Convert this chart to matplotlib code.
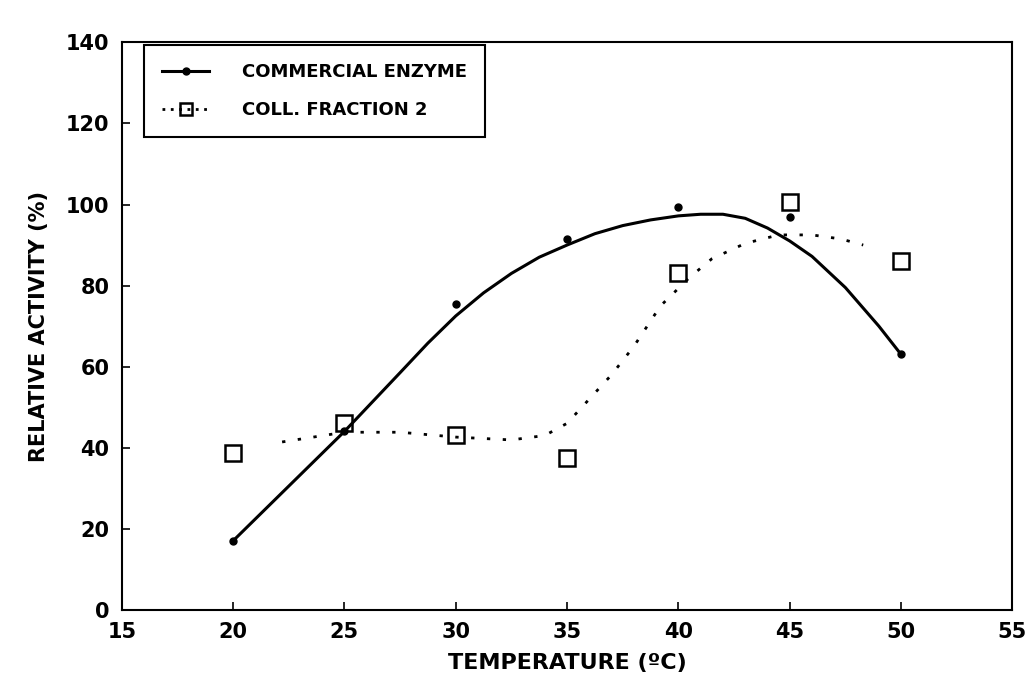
import matplotlib
matplotlib.use("Agg")
import matplotlib.pyplot as plt
from matplotlib.lines import Line2D

# measured points
temp = [20, 25, 30, 35, 40, 45, 50]
commercial = [17, 44, 75.5, 91.5, 99.5, 97, 63]
fraction2 = [38.6, 46, 43, 37.4, 83, 100.7, 86]

# hand-drawn fit curves
comm_fit_x = [20, 22.5, 25, 27.5, 28.75, 30, 31.25, 32.5, 33.75, 35, 36.25, 37.5,
              38.75, 40, 41, 42, 43, 44, 45, 46, 47.5, 49, 50]
comm_fit_y = [17, 30.5, 44, 58.5, 65.8, 72.5, 78.2, 83, 87, 90, 92.8, 94.8,
              96.2, 97.2, 97.6, 97.6, 96.6, 94.2, 91, 87.2, 79.5, 70, 63]
frac_fit_x = [22.2, 25, 27.5, 30, 32.5, 34, 35, 36, 37, 38, 39.2, 40.5, 41.5, 43,
              44.5, 46, 47.3, 48.3]
frac_fit_y = [41.4, 43.8, 43.8, 42.6, 41.9, 43, 46, 52, 58, 65, 75, 82, 86.6, 90.4,
              92.5, 92.5, 91.5, 90]

xticks = [15, 20, 25, 30, 35, 40, 45, 50, 55]
yticks = [0, 20, 40, 60, 80, 100, 120, 140]

plt.rcParams['font.family'] = 'DejaVu Sans'
plt.rcParams['font.weight'] = 'bold'

fig = plt.figure(figsize=(10.32, 6.96), dpi=100)
ax = fig.add_axes([0.118, 0.124, 0.863, 0.815])

ax.plot(comm_fit_x, comm_fit_y, color='black', lw=2.2,
        solid_capstyle='round', solid_joinstyle='round')
ax.plot(temp, commercial, 'o', color='black', ms=5)
ax.plot(frac_fit_x, frac_fit_y, color='black', lw=2.0, linestyle=(0, (1.2, 4.5)))
ax.plot(temp, fraction2, 's', mfc='none', mec='black', ms=12, mew=1.8)

ax.set_xlim(15, 55)
ax.set_ylim(0, 140)
ax.set_xticks(xticks)
ax.set_yticks(yticks)
ax.tick_params(direction='in', length=6, width=1.2, labelsize=15, pad=9)
for lab in ax.get_xticklabels() + ax.get_yticklabels():
    lab.set_fontweight('bold')
for sp in ax.spines.values():
    sp.set_linewidth(1.5)

ax.set_xlabel('TEMPERATURE (\u00baC)', fontsize=16, fontweight='bold', labelpad=8)
ax.set_ylabel('RELATIVE ACTIVITY (%)', fontsize=15, fontweight='bold', labelpad=12)

handles = [
    Line2D([], [], color='black', lw=2.2, marker='o', ms=5),
    Line2D([], [], color='black', lw=2.0, linestyle=(0, (1, 2)), marker='s',
           mfc='none', mec='black', ms=9, mew=1.8),
]
leg = ax.legend(handles, ['COMMERCIAL ENZYME', 'COLL. FRACTION 2'],
                loc='upper left', bbox_to_anchor=(0.025, 0.995),
                fancybox=False, edgecolor='black', framealpha=1,
                prop={'weight': 'bold', 'size': 13},
                handlelength=2.6, borderpad=1.0, labelspacing=1.1,
                handletextpad=1.8, borderaxespad=0)
leg.get_frame().set_linewidth(1.5)

fig.savefig('out.png', dpi=100)
